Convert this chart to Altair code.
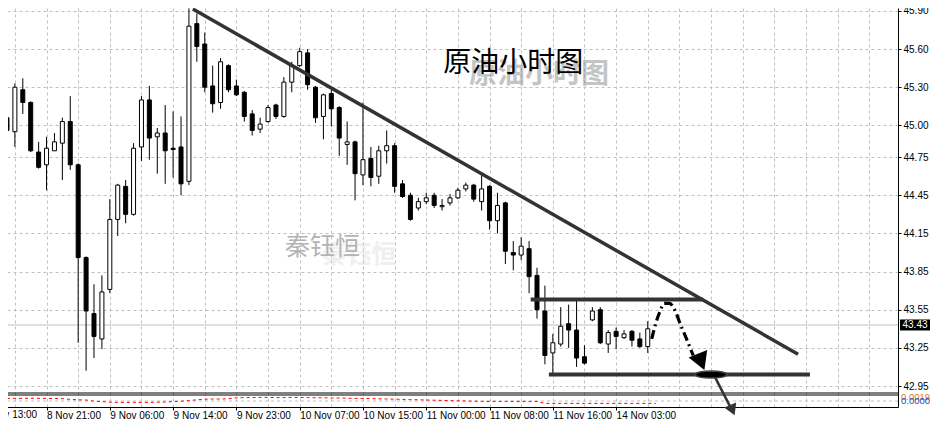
import json
import altair as alt
import pandas as pd

# ---------------- data ----------------
opens = [45.06, 44.95, 45.28, 45.18, 44.79, 44.69, 44.80, 44.86, 45.03, 44.69,
         43.96, 43.52, 43.32, 43.71, 44.26, 44.52, 44.30, 44.83, 45.20, 44.91,
         44.94, 44.82, 44.83, 44.56, 45.80, 45.64, 45.31, 45.18, 45.47, 45.31,
         45.26, 45.09, 44.97, 45.03, 45.16, 45.07, 45.34, 45.47, 45.57, 45.30,
         45.07, 45.25, 45.14, 44.85, 44.87, 44.61, 44.74, 44.60, 44.80, 44.84,
         44.54, 44.45, 44.35, 44.40, 44.45, 44.36, 44.39, 44.43, 44.50, 44.53,
         44.40, 44.52, 44.25, 44.39, 44.00, 43.98, 44.03, 43.82, 43.54, 43.21,
         43.28, 43.44, 43.39, 43.18, 43.47, 43.55, 43.28, 43.38, 43.33, 43.38,
         43.32, 43.26]
highs = [45.10, 45.33, 45.37, 45.19, 44.87, 44.91, 44.94, 45.06, 45.23, 44.70,
         43.97, 43.75, 43.82, 44.42, 44.54, 44.57, 44.86, 45.23, 45.31, 44.98,
         45.16, 45.11, 45.07, 45.92, 45.88, 45.73, 45.47, 45.53, 45.48, 45.36,
         45.27, 45.12, 45.06, 45.16, 45.17, 45.38, 45.50, 45.61, 45.60, 45.31,
         45.25, 45.28, 45.15, 45.03, 44.88, 45.18, 44.83, 44.84, 44.96, 44.86,
         44.57, 44.47, 44.43, 44.47, 44.47, 44.42, 44.46, 44.51, 44.55, 44.54,
         44.61, 44.53, 44.47, 44.40, 44.09, 44.12, 44.09, 43.88, 43.74, 43.36,
         43.57, 43.59, 43.62, 43.27, 43.57, 43.57, 43.39, 43.41, 43.39, 43.39,
         43.37, 43.46]
lows = [44.79, 44.83, 45.09, 44.79, 44.66, 44.49, 44.80, 44.57, 44.65, 43.29,
        43.07, 43.17, 43.24, 43.68, 44.13, 44.23, 44.29, 44.72, 44.73, 44.62,
        44.54, 44.59, 44.45, 44.53, 45.50, 45.26, 45.10, 45.13, 45.26, 45.23,
        45.03, 44.92, 44.94, 45.02, 45.05, 45.06, 45.26, 45.46, 45.28, 45.02,
        44.89, 44.99, 44.76, 44.69, 44.41, 44.53, 44.52, 44.54, 44.70, 44.47,
        44.43, 44.25, 44.33, 44.38, 44.35, 44.33, 44.37, 44.42, 44.48, 44.40,
        44.33, 44.18, 44.15, 43.91, 43.86, 43.94, 43.68, 43.48, 43.12, 43.04,
        43.26, 43.25, 43.10, 43.12, 43.46, 43.28, 43.21, 43.24, 43.32, 43.26,
        43.25, 43.21]
closes = [44.96, 45.30, 45.18, 44.80, 44.67, 44.82, 44.87, 45.03, 44.69, 43.96,
          43.54, 43.34, 43.69, 44.26, 44.53, 44.30, 44.82, 45.20, 44.90, 44.94,
          44.80, 44.81, 44.54, 45.78, 45.62, 45.30, 45.17, 45.50, 45.28, 45.24,
          45.07, 44.96, 45.01, 45.14, 45.07, 45.34, 45.47, 45.58, 45.32, 45.06,
          45.24, 45.13, 44.90, 44.87, 44.62, 44.73, 44.59, 44.80, 44.84, 44.52,
          44.44, 44.26, 44.40, 44.43, 44.37, 44.37, 44.43, 44.49, 44.53, 44.42,
          44.50, 44.25, 44.37, 44.01, 43.98, 44.05, 43.81, 43.55, 43.19, 43.29,
          43.42, 43.39, 43.17, 43.13, 43.54, 43.29, 43.37, 43.34, 43.36, 43.31,
          43.26, 43.40]

indicator = [0.0013, 0.0013, 0.0013, 0.0014, 0.0013, 0.0013, 0.0012, 0.0012,
             0.0008, 0.0006, 0.0005,
             -0.0001, -0.0003,
             -0.0006, -0.0007, -0.0007, -0.0007, -0.0007, -0.0007, -0.0006, -0.0005,
             -0.0003, -0.0001, 0.0002,
             0.0006, 0.0009, 0.0010, 0.0010, 0.0011,
             0.0016, 0.0017, 0.0017, 0.0018, 0.0018, 0.0017, 0.0017, 0.0018, 0.0018,
             0.0017, 0.0016, 0.0016, 0.0015, 0.0015, 0.0014, 0.0013,
             0.0012, 0.0012, 0.0011, 0.0010, 0.0009, 0.0008, 0.0007, 0.0006,
             0.0005, 0.0004, 0.0003, 0.0002, 0.0001, 0.0000, -0.0001,
             -0.0002, -0.0002, -0.0002, -0.0002, -0.0002, -0.0002, -0.0002, -0.0002,
             -0.0012, -0.0012, -0.0012, -0.0012, -0.0012, -0.0012, -0.0012, -0.0012,
             -0.0012, -0.0012, -0.0012, -0.0012, -0.0012, -0.0012, -0.0012]
indicator_labels = ["0.0019", "0.0000"]
indicator_label_values = [0.0019, 0.0]

price_ticks = [45.90, 45.60, 45.30, 45.00, 44.75, 44.45, 44.15, 43.85, 43.55, 43.25, 42.95]
label_bars = [-3, 5, 13, 21, 29, 37, 45, 53, 61, 69, 77]
label_texts = ["8 Nov 13:00", "8 Nov 21:00", "9 Nov 06:00", "9 Nov 14:00", "9 Nov 23:00",
               "10 Nov 07:00", "10 Nov 15:00", "11 Nov 00:00", "11 Nov 08:00",
               "11 Nov 16:00", "14 Nov 03:00"]
grid_bars = [1, 5, 9, 13, 17, 21, 25, 29, 33, 37, 41, 45, 49, 53, 57, 61, 65, 69, 73,
             77, 81, 85, 89, 93, 97, 101, 105, 109]

last_price = 43.43
trend_bars = [23.5, 100.0]
trend_prices = [45.915, 43.20]
resist_bars = [66.2, 88.0]
resist_price = 43.63
support_bars = [68.5, 101.5]
support_price = 43.04
curve_bars = [81.5, 82.0, 82.5, 83.1, 83.75, 84.4, 85.1, 85.9, 86.75]
curve_prices = [43.32, 43.44, 43.53, 43.60, 43.60, 43.55, 43.44, 43.32, 43.19]
head1 = (87.75, 43.14)
ellipse_at = (89.0, 43.04)
drop_bars = [89.5, 91.4]
drop_prices = [43.02, 42.79]
head2 = (91.7, 42.76)

title_text = "原油小时图"
title_at = (64.0, 45.48)
title_shadow_at = (67.25, 45.395)
mark_text_str = "秦钰恒"
mark_at = (39.9, 44.04)
mark_shadow_at = (44.5, 43.98)

# ---------------- layout ----------------
W = 898            # plot width (8 px per bar)
H_MAIN = 385       # price window height
GAP = 2            # gap between price window and indicator window
H_IND = 12         # indicator window height
H = H_MAIN + GAP + H_IND
PAD_L, PAD_T = -8, 0    # page margin compensation (content beyond the edge is cut, as in the original)
SVG_W, SVG_H = 922, 413
FONT = "Liberation Sans"
CJK = "Noto Sans CJK SC"
GRID = "#c0c0c0"

P_TOP, P_BOT = 45.923, 42.895            # price range of the main window
k = H_MAIN / (P_TOP - P_BOT)
P_FULL_BOT = P_TOP - H / k
I_LO, I_HI = -0.003, 0.003              # indicator range of the sub window
ki = H_IND / (I_HI - I_LO)
I_FULL_HI = I_LO + H / ki

xs = alt.Scale(domain=[-0.25, 112], nice=False, zero=False)
ys = alt.Scale(domain=[P_FULL_BOT, P_TOP], nice=False, zero=False)
yi = alt.Scale(domain=[I_LO, I_FULL_HI], nice=False, zero=False)

idx = f"indexof({json.dumps(label_bars)}, datum.value)"
label_expr = f"{idx} >= 0 ? {json.dumps(label_texts)}[{idx}] : ''"
x_axis = alt.Axis(values=grid_bars, labelExpr=label_expr,
                  labelAlign="left", labelBaseline="top", labelPadding=0, tickSize=3,
                  tickColor="black",
                  tickOpacity={"condition": {"test": f"{idx} >= 0", "value": 1}, "value": 0},
                  domainColor="black", grid=True, gridColor=GRID, gridDash=[3, 3],
                  title=None, labelFlush=False, labelOverlap=False)
price_axis = alt.Axis(orient="right", values=price_ticks, format=".2f", tickSize=3,
                      tickColor="black", domainColor="black", labelPadding=2, grid=True,
                      gridColor=GRID, gridDash=[3, 3], title=None, labelFlush=False,
                      labelOverlap=False)


def X(f):
    return alt.X(f"{f}:Q", scale=xs, axis=x_axis)


def Y(f, axis=None):
    return alt.Y(f"{f}:Q", scale=ys, axis=axis)


def YI(f):
    return alt.Y(f"{f}:Q", scale=yi, axis=None)


candles = pd.DataFrame({"i": list(range(len(opens))), "o": opens, "h": highs,
                        "l": lows, "c": closes})
candles["lo"] = candles[["o", "c"]].min(axis=1)
candles["hi"] = candles[["o", "c"]].max(axis=1)
candles["up"] = candles["c"] >= candles["o"]

price_df = pd.DataFrame({"p": [last_price], "t": [f"{last_price:.2f}"]})

layers = []
layers.append(alt.Chart(price_df).mark_rule(color=GRID, strokeWidth=1)
              .encode(y=Y("p", price_axis)))

# time label whose bar lies left of the visible window
first_lab = pd.DataFrame({"i": [label_bars[0]], "t": [label_texts[0]]})
layers.append(alt.Chart(first_lab)
              .mark_text(font=FONT, fontSize=10, color="black", align="left", baseline="top")
              .encode(x=X("i"), y=alt.value(H + 3), text="t:N"))


def txt_layer(t, at, size, color, opacity, weight="normal"):
    df = pd.DataFrame({"i": [at[0]], "p": [at[1]], "t": [t]})
    return (alt.Chart(df).mark_text(font=CJK, fontSize=size, color=color,
                                    opacity=opacity, fontWeight=weight)
            .encode(x=X("i"), y=Y("p"), text="t:N"))


layers.append(txt_layer(title_text, title_shadow_at, 28, "#8a8a8a", 0.5, "bold"))
layers.append(txt_layer(mark_text_str, mark_shadow_at, 25, "#d8d8d8", 0.4, "bold"))
layers.append(txt_layer(mark_text_str, mark_at, 25, "#b4b4b4", 1))
layers.append(txt_layer(title_text, title_at, 28, "#000000", 1))

# candles
layers.append(alt.Chart(candles).mark_rule(color="black", strokeWidth=1, clip=True)
              .encode(x=X("i"), y=Y("l"), y2="h"))
layers.append(alt.Chart(candles).mark_bar(width=4, stroke="black", strokeWidth=1, clip=True)
              .encode(x=X("i"), y=Y("lo"), y2="hi",
                      fill=alt.condition("datum.up", alt.value("white"), alt.value("black"))))

# window borders (bottom of the price window, top of the indicator window)
layers.append(alt.Chart(pd.DataFrame({"p": [P_BOT]})).mark_rule(color="black", strokeWidth=1)
              .encode(y=Y("p")))
ind_df = pd.DataFrame({"i": list(range(len(indicator))), "v": indicator})
layers.append(alt.Chart(pd.DataFrame({"v": [I_HI]})).mark_rule(color="black", strokeWidth=1)
              .encode(y=YI("v")))
layers.append(alt.Chart(pd.DataFrame({"v": [0.0]}))
              .mark_rule(color=GRID, strokeWidth=1, strokeDash=[3, 3])
              .encode(y=YI("v")))
layers.append(alt.Chart(ind_df)
              .mark_line(color="#ff0000", strokeWidth=1, strokeDash=[3, 3], clip=True)
              .encode(x=X("i"), y=YI("v")))
ind_lab = pd.DataFrame({"v": indicator_label_values, "t": indicator_labels,
                        "c": ["#e07b00", "#1c3faa"]})
layers.append(alt.Chart(ind_lab).mark_text(font=FONT, fontSize=9.5, align="left")
              .encode(x=alt.value(W + 3), y=YI("v"), text="t:N",
                      color=alt.Color("c:N", scale=None)))

# trend lines
trend_df = pd.DataFrame({"i": trend_bars, "p": trend_prices})
layers.append(alt.Chart(trend_df).mark_line(color="#333333", strokeWidth=3.5)
              .encode(x=X("i"), y=Y("p")))
hl_df = pd.DataFrame({"i": resist_bars + support_bars,
                      "p": [resist_price] * 2 + [support_price] * 2,
                      "g": ["r", "r", "s", "s"]})
layers.append(alt.Chart(hl_df).mark_line(color="#333333", strokeWidth=4)
              .encode(x=X("i"), y=Y("p"), detail="g:N"))

# dash-dot projected path
curve_df = pd.DataFrame({"i": curve_bars, "p": curve_prices})
layers.append(alt.Chart(curve_df).mark_line(color="black", strokeWidth=3.2,
                                            strokeDash=[9, 4, 2, 4], interpolate="monotone")
              .encode(x=X("i"), y=Y("p")))
layers.append(alt.Chart(pd.DataFrame({"i": [head1[0]], "p": [head1[1]]}))
              .mark_point(shape="triangle-down", filled=True, color="black", opacity=1,
                          size=400, angle=338)
              .encode(x=X("i"), y=Y("p")))

# break arrow
drop_df = pd.DataFrame({"i": drop_bars, "p": drop_prices})
layers.append(alt.Chart(drop_df).mark_line(color="#333333", strokeWidth=2.5)
              .encode(x=X("i"), y=Y("p")))
layers.append(alt.Chart(pd.DataFrame({"i": [head2[0]], "p": [head2[1]]}))
              .mark_point(shape="triangle-down", filled=True, color="#333333", opacity=1,
                          size=170, angle=337)
              .encode(x=X("i"), y=Y("p")))

ellipse_path = ("M-1,0 L-0.92,-0.09 L-0.71,-0.16 L-0.38,-0.2 L0,-0.22 L0.38,-0.2 "
                "L0.71,-0.16 L0.92,-0.09 L1,0 L0.92,0.09 L0.71,0.16 L0.38,0.2 L0,0.22 "
                "L-0.38,0.2 L-0.71,0.16 L-0.92,0.09 Z")
layers.append(alt.Chart(pd.DataFrame({"i": [ellipse_at[0]], "p": [ellipse_at[1]]}))
              .mark_point(shape=ellipse_path, filled=True, fill="black", stroke="#444444",
                          strokeWidth=1.5, opacity=1, size=1024)
              .encode(x=X("i"), y=Y("p")))

# last-price tag
tag_path = "M-1,-0.367 L1,-0.367 L1,0.367 L-1,0.367 Z"
layers.append(alt.Chart(price_df).mark_point(shape=tag_path, filled=True, color="black",
                                             opacity=1, size=900)
              .encode(x=alt.value(W + 17), y=Y("p")))
layers.append(alt.Chart(price_df).mark_text(font=FONT, fontSize=10, color="white")
              .encode(x=alt.value(W + 17), y=Y("p"), text="t:N"))

chart = (alt.layer(*layers)
         .resolve_scale(y="independent")
         .properties(width=W, height=H, background="white",
                     autosize=alt.AutoSizeParams(type="none"),
                     padding={"left": PAD_L, "top": PAD_T, "right": SVG_W - W - PAD_L,
                              "bottom": SVG_H - H - PAD_T})
         .configure_view(stroke=None)
         .configure_axis(labelFont=FONT, labelFontSize=10, labelColor="black"))

chart.save("out.html", embed_options={"renderer": "svg", "actions": False})
